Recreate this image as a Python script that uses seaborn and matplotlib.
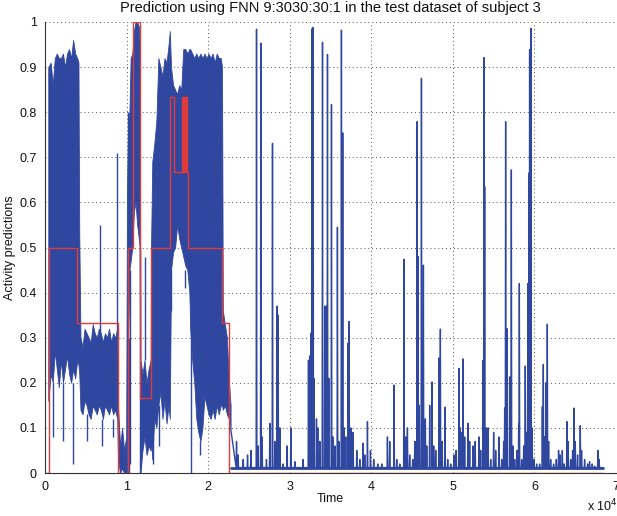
import numpy as np
import matplotlib
matplotlib.use("Agg")
import matplotlib.pyplot as plt
import seaborn as sns

# ---- ground-truth activity level (step changes) ----
truth_t = [0, 490, 3880, 8980, 10130, 10810, 11640, 12950, 15320, 15850,
           16820, 16920, 16990, 17090, 17160, 17260, 17330, 17430, 17560,
           21740, 22590, 68420]
truth_level = [0.0, 0.5, 0.3333, 0.0, 0.5, 1.0, 0.1667, 0.5, 0.8333, 0.6667,
               0.8333, 0.6667, 0.8333, 0.6667, 0.8333, 0.6667, 0.8333, 0.6667, 0.5,
               0.3333, 0.0, 0.0]

# ---- dense part of the prediction: lower / upper envelope ----
dense_t = [400, 700, 950, 1200, 1450, 1700, 1950, 2200, 2450, 2700, 2950, 3200, 3450, 3700, 3950, 4100,
           4200, 4350, 4600, 4850, 5100, 5350, 5600, 5850, 6100, 6350, 6600, 6850, 7100, 7350, 7600,
           7850, 8100, 8350, 8600, 8850,
           8950, 9200, 9450, 9700, 9950,
           10050, 10200, 10350, 10500, 10700, 10900, 11100, 11300, 11500, 11600,
           11700, 11950, 12200, 12450, 12700, 12950,
           13000, 13150, 13400, 13650, 13900, 14150, 14400, 14650, 14900, 15150,
           15300, 15450, 15700, 15950, 16200, 16450, 16700, 16950, 17200, 17450, 17700,
           17800, 18050, 18300, 18550, 18800, 19050, 19300, 19550, 19800, 20050, 20300, 20550,
           20800, 21050, 21300, 21550, 21700, 21800, 22050, 22300, 22550, 22750]
dense_hi = [0.90, 0.91, 0.86, 0.92, 0.93, 0.92, 0.92, 0.93, 0.90, 0.93, 0.94, 0.92, 0.96, 0.93, 0.92, 0.91,
            0.53, 0.30, 0.28, 0.32, 0.31, 0.30, 0.29, 0.33, 0.31, 0.30, 0.32, 0.31, 0.29, 0.31, 0.30,
            0.32, 0.29, 0.31, 0.30, 0.32,
            0.15, 0.06, 0.10, 0.05, 0.08,
            0.62, 0.79, 0.80, 0.92, 0.93, 0.98, 1.00, 1.00, 0.99, 0.95,
            0.25, 0.22, 0.25, 0.20, 0.23, 0.25,
            0.50, 0.69, 0.73, 0.78, 0.92, 0.90, 0.88, 0.92, 0.91, 0.95,
            0.98, 0.90, 0.86, 0.85, 0.84, 0.86, 0.85, 0.94, 0.94, 0.93, 0.94,
            0.94, 0.93, 0.92, 0.93, 0.92, 0.93, 0.92, 0.93, 0.92, 0.93, 0.92, 0.93,
            0.91, 0.93, 0.92, 0.92, 0.90, 0.36, 0.33, 0.30, 0.20, 0.15]
dense_lo = [0.16, 0.22, 0.20, 0.27, 0.23, 0.19, 0.25, 0.20, 0.23, 0.26, 0.22, 0.20, 0.23, 0.21, 0.25, 0.24,
            0.22, 0.14, 0.13, 0.16, 0.15, 0.13, 0.12, 0.15, 0.14, 0.13, 0.15, 0.14, 0.12, 0.15, 0.14,
            0.13, 0.15, 0.13, 0.14, 0.12,
            0.03, 0.00, 0.01, 0.00, 0.00,
            0.00, 0.30, 0.45, 0.47, 0.50, 0.58, 0.60, 0.55, 0.52, 0.50,
            0.00, 0.05, 0.08, 0.04, 0.06, 0.05,
            0.08, 0.03, 0.12, 0.10, 0.15, 0.18, 0.12, 0.16, 0.11, 0.15,
            0.12, 0.45, 0.49, 0.50, 0.55, 0.52, 0.50, 0.48, 0.46, 0.45, 0.40,
            0.32, 0.25, 0.20, 0.12, 0.09, 0.07, 0.10, 0.17, 0.15, 0.13, 0.12, 0.14,
            0.12, 0.15, 0.13, 0.15, 0.15, 0.14, 0.15, 0.13, 0.12, 0.10]

# isolated strands that leave the envelope (time, from, to)
strand_t = [1000, 2250, 3470, 5100, 6740, 7000, 8350, 8860, 10250, 10400, 10200, 11650,
            12250, 13200, 14000, 15450, 17150, 17900, 18950]
strand_a = [0.20, 0.20, 0.20, 0.13, 0.30, 0.12, 0.12, 0.30, 0.30, 0.45, 0.60, 0.50,
            0.25, 0.08, 0.15, 0.45, 0.45, 0.33, 0.07]
strand_b = [0.08, 0.07, 0.02, 0.07, 0.55, 0.06, 0.08, 0.71, 0.00, 0.02, 0.80, 0.00,
            0.48, 0.02, 0.06, 0.36, 0.41, 0.00, 0.04]

# ---- sparse part: resting level and peaks ----
rest_t = [22800, 68420]
rest_level = 0.012
peak_t = [23480, 23680, 24300, 24830, 25240, 25930, 26130, 26460, 26620, 27150, 27560, 27890,
          28180, 28460, 28580, 28790, 29190, 29680, 30140, 30630, 31640,
          32300, 32500, 32620, 32740, 32870, 32950, 33280, 33440, 33690, 34020, 34300, 34510,
          34630, 34790, 35120, 35280, 35530, 35850, 36020, 36340, 36500, 36670, 36870, 37160,
          37280, 37490, 37770, 38220, 38590, 38990, 39200, 39530, 39900, 40300, 40790, 41280,
          41980, 42260, 42790, 43120, 43490, 44010, 44220, 44430, 44710, 45080, 45330, 45530,
          45610, 45730, 45880, 46150, 46390, 46630, 46800, 47160, 47450, 47650, 47900, 48300,
          48470, 48690, 49040, 49370, 49740, 50140, 50410, 50750, 50900, 51060, 51240, 51450,
          51850, 52060, 52470, 52740, 53200, 53410, 53710, 53810, 53900, 54080, 54310, 54640,
          55000, 55250, 55650, 55980, 56230, 56350, 56470, 56630, 56960, 57170, 57390, 57580,
          57860, 58070, 58150, 58430, 58680, 58880, 59040, 59200, 59320, 59410, 59570, 59720,
          59940, 60270, 60640, 60970, 61090, 61250, 61410, 61580, 61740, 61990, 62350, 62680,
          62960, 63150, 63420, 63640, 63980, 64130, 64440, 64680, 64840, 65010, 65290, 65620,
          65780, 66150, 66520, 66760, 67090, 67380, 67780, 67930]
peak_y = [0.07, 0.04, 0.03, 0.04, 0.05, 0.984, 0.06, 0.953, 0.08, 0.03, 0.11, 0.731,
          0.07, 0.37, 0.35, 0.10, 0.02, 0.06, 0.10, 0.025, 0.03,
          0.25, 0.26, 0.31, 0.985, 0.988, 0.21, 0.12, 0.10, 0.07, 0.955, 0.37, 0.37,
          0.928, 0.21, 0.817, 0.08, 0.06, 0.545, 0.07, 0.982, 0.754, 0.10, 0.08, 0.288,
          0.336, 0.10, 0.09, 0.05, 0.03, 0.066, 0.04, 0.114, 0.05, 0.03, 0.02, 0.02,
          0.08, 0.07, 0.195, 0.03, 0.02, 0.474, 0.08, 0.10, 0.04, 0.03, 0.07, 0.07,
          0.779, 0.48, 0.15, 0.875, 0.461, 0.12, 0.06, 0.15, 0.202, 0.06, 0.05, 0.255,
          0.319, 0.07, 0.146, 0.03, 0.02, 0.04, 0.05, 0.232, 0.10, 0.09, 0.253, 0.08,
          0.11, 0.07, 0.06, 0.07, 0.08, 0.05, 0.25, 0.921, 0.635, 0.10, 0.10, 0.03,
          0.09, 0.05, 0.08, 0.03, 0.07, 0.144, 0.779, 0.32, 0.213, 0.672, 0.06, 0.03,
          0.05, 0.11, 0.42, 0.03, 0.06, 0.237, 0.09, 0.42, 0.665, 0.939, 0.986, 0.10,
          0.03, 0.02, 0.02, 0.147, 0.241, 0.08, 0.20, 0.33, 0.07, 0.03, 0.02, 0.03,
          0.05, 0.04, 0.05, 0.02, 0.114, 0.07, 0.03, 0.05, 0.144, 0.07, 0.04, 0.105,
          0.05, 0.03, 0.02, 0.025, 0.02, 0.015, 0.05, 0.03]

x_ticks = [0, 10000, 20000, 30000, 40000, 50000, 60000, 70000]
x_tick_labels = ["0", "1", "2", "3", "4", "5", "6", "7"]
y_ticks = [0.0, 0.1, 0.2, 0.3, 0.4, 0.5, 0.6, 0.7, 0.8, 0.9, 1.0]
y_tick_labels = ["0", "0.1", "0.2", "0.3", "0.4", "0.5", "0.6", "0.7", "0.8", "0.9", "1"]

BLUE = "#3047a0"
RED = "#de3b3b"
AXC = "#333333"
TXT = "#111111"

sns.set_style("white")
plt.rcParams["font.family"] = ["Liberation Sans", "DejaVu Sans"]

fig = plt.figure(figsize=(6.17, 5.16), dpi=100)
ax = fig.add_axes([45 / 617, 1 - 473 / 516, 571 / 617, 451 / 516])

# dense activity block
ax.fill_between(dense_t, dense_lo, dense_hi, color=BLUE, linewidth=0.6, edgecolor=BLUE, zorder=2)
ax.vlines(strand_t, strand_a, strand_b, color=BLUE, linewidth=1.0, zorder=2)

# sparse trace: resting level with individual peaks
half_w = 45
sx, sy = [22750], [0.10]
for t, p in zip(peak_t, peak_y):
    sx += [t - half_w, t, t + half_w]
    sy += [rest_level, p, rest_level]
sx.append(rest_t[1])
sy.append(rest_level)
sns.lineplot(x=rest_t, y=[rest_level, rest_level], color=BLUE, linewidth=2.0,
             estimator=None, sort=False, ax=ax, zorder=2)
sns.lineplot(x=sx, y=sy, color=BLUE, linewidth=1.0, estimator=None, sort=False,
             ax=ax, zorder=2)

# ground truth
sns.lineplot(x=truth_t, y=truth_level, color=RED, linewidth=1.0, drawstyle="steps-post",
             estimator=None, sort=False, ax=ax, zorder=3)

ax.set_xlim(0, 70000)
ax.set_ylim(0, 1)
ax.set_xticks(x_ticks)
ax.set_xticklabels(x_tick_labels)
ax.set_yticks(y_ticks)
ax.set_yticklabels(y_tick_labels)
ax.grid(True, color="#555555", linestyle=(0, (1, 3)), linewidth=0.7)
ax.set_axisbelow(True)
for s in ["top", "right"]:
    ax.spines[s].set_visible(False)
for s in ["left", "bottom"]:
    ax.spines[s].set_color(AXC)
    ax.spines[s].set_linewidth(0.8)
ax.tick_params(direction="in", length=3.5, width=0.8, color=AXC, labelsize=9,
               labelcolor=TXT, pad=6)

ax.set_title("Prediction using FNN 9:3030:30:1 in the test dataset of subject 3",
             fontsize=10.5, pad=7, color=TXT)
ax.set_xlabel("Time", fontsize=9, color=TXT)
ax.xaxis.set_label_coords(285 / 571, -(493 - 473) / 451)
ax.set_ylabel("Activity predictions", fontsize=9, color=TXT)
ax.yaxis.set_label_coords(-(45 - 16) / 571, 0.5)
fig.text(587 / 617, 1 - 511 / 516, r"x 10$^{4}$", fontsize=9, color=TXT,
         ha="left", va="baseline")

fig.savefig("out.png", dpi=100)
